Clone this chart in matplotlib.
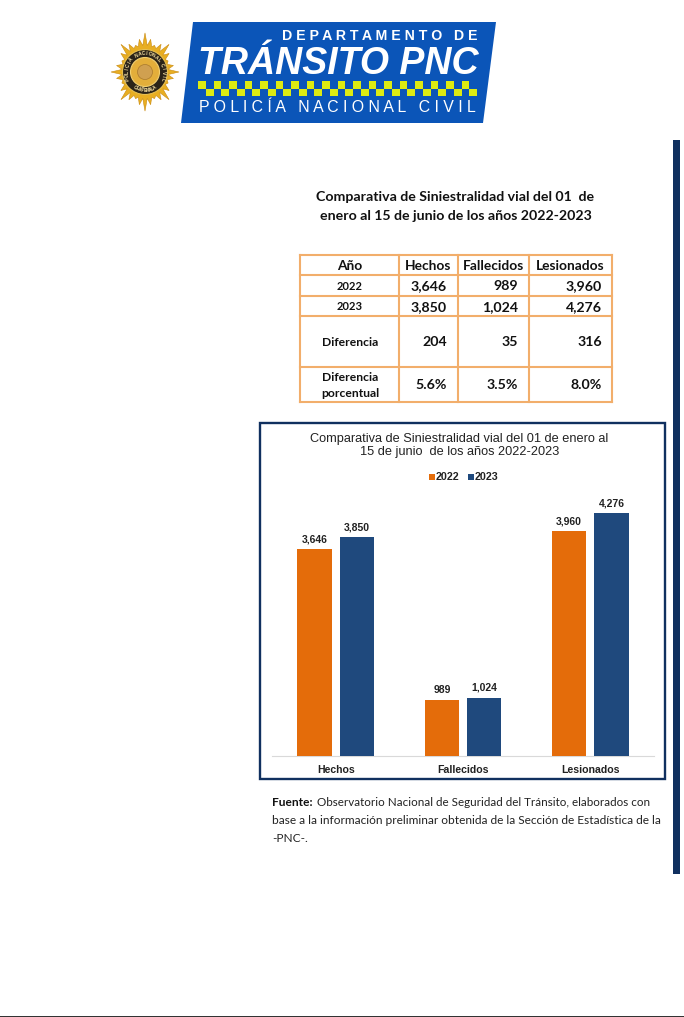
import numpy as np
import matplotlib
matplotlib.use("Agg")
import matplotlib.pyplot as plt
from matplotlib.patches import Polygon, Rectangle, Circle

# ---- data ----
categories = ["Hechos", "Fallecidos", "Lesionados"]
series_2022 = [3646, 989, 3960]
series_2023 = [3850, 1024, 4276]
labels_2022 = ["3,646", "989", "3,960"]
labels_2023 = ["3,850", "1,024", "4,276"]
table_head = ["Año", "Hechos", "Fallecidos", "Lesionados"]
table_rows = [
    ["2022", "3,646", "989", "3,960"],
    ["2023", "3,850", "1,024", "4,276"],
    ["Diferencia", "204", "35", "316"],
    ["Diferencia\nporcentual", "5.6%", "3.5%", "8.0%"],
]
doc_title = "Comparativa de Siniestralidad vial del 01  de\nenero al 15 de junio de los años 2022-2023"
chart_title = "Comparativa de Siniestralidad vial del 01 de enero al\n15 de junio  de los años 2022-2023"

ORANGE, BLUE = "#E46C0A", "#1F497D"
NAVY = "#10305F"
TABLE_LINE = "#F2AE6B"
BODY = "Lato"
ARIAL = "Liberation Sans"
W, H = 684, 1017

fig = plt.figure(figsize=(W / 100, H / 100), dpi=100, facecolor="white")
pg = fig.add_axes([0, 0, 1, 1])
pg.set_xlim(0, W)
pg.set_ylim(H, 0)
pg.axis("off")

# ---- logo ----
pg.add_patch(Polygon([(193, 22), (496, 22), (483, 123), (181, 123)], fc="#0B55B8", ec="none"))
pg.text(477, 36.5, "D E P A R T A M E N T O   D E", color="white", fontsize=10.2, fontweight="bold",
        family=ARIAL, ha="right", va="center")
pg.text(338, 64, "TRÁNSITO PNC", color="white", fontsize=27, fontweight="bold", style="italic",
        family=ARIAL, ha="center", va="center")
pg.text(337, 107.5, "P O L I C Í A   N A C I O N A L   C I V I L", color="white", fontsize=11.4,
        family=ARIAL, ha="center", va="center")
for i in range(36):
    x0 = 198 + i * 7.75
    y0 = 81 if i % 2 == 0 else 88.5
    pg.add_patch(Rectangle((x0, y0), 7.75, 7.5, fc="#DDEB12", ec="none"))

# badge
cx, cy = 145, 72
n_peaks = 32
ang = np.linspace(0, 2 * np.pi, 2 * n_peaks, endpoint=False)
peak_r = {0: 34, 1: 29, 2: 25, 3: 29}
rad = np.array([peak_r[(k // 2) % 4] if k % 2 == 0 else 23 for k in range(2 * n_peaks)], dtype=float)
pg.add_patch(Polygon(np.c_[cx + rad * np.sin(ang), cy + 1.15 * rad * np.cos(ang)], fc="#E8AE22",
                     ec="#C98A12", lw=0.4))
pg.add_patch(Circle((cx, cy), 22.5, fc="#2A2318", ec="#E8C050", lw=0.8))
pg.add_patch(Circle((cx, cy), 14.5, fc="#E3AE3A", ec="#F2D070", lw=0.8))
pg.add_patch(Circle((cx, cy), 7.5, fc="#D0A050", ec="#B08030", lw=0.6))
for txt, start, stop, rot_off in [("POLICIA NACIONAL CIVIL", -112, 112, 0), ("GUATEMALA", 212, 148, 180)]:
    for ch, a in zip(txt, np.linspace(start, stop, len(txt))):
        r = np.deg2rad(a)
        pg.text(cx + 18.3 * np.sin(r), cy - 18.3 * np.cos(r), ch, color="#F5DFA0", fontsize=3.6,
                fontweight="bold", family=ARIAL, ha="center", va="center", rotation=-a + rot_off)

# ---- side bar and foot line ----
pg.add_patch(Rectangle((673, 140), 7, 734, fc=NAVY, ec="none"))
pg.add_patch(Rectangle((0, 1016), W, 1, fc="#333333", ec="none"))

# ---- document title ----
pg.text(455.5, 206.5, doc_title, family=BODY, fontsize=10.2, fontweight="bold", color="#111111",
        ha="center", va="center", linespacing=1.7)

# ---- table ----
xs = [300, 399, 458, 529, 612]
ys = [255, 275, 296, 316, 367, 402]
for x in xs:
    pg.plot([x, x], [ys[0], ys[-1]], color=TABLE_LINE, lw=1.5, solid_capstyle="projecting")
for y in ys:
    pg.plot([xs[0], xs[-1]], [y, y], color=TABLE_LINE, lw=1.5, solid_capstyle="projecting")
for j, h in enumerate(table_head):
    pg.text((xs[j] + xs[j + 1]) / 2, 265.5, h, family=BODY, fontsize=9.9, fontweight="bold",
            color="#111111", ha="center", va="center")
right_edges = [447, 518, 602]
for i, row in enumerate(table_rows):
    yc = (ys[i + 1] + ys[i + 2]) / 2
    size0 = 8 if i < 2 else 8.7
    pg.text(350, yc + 0.8, row[0], family=BODY, fontsize=size0, fontweight="bold", color="#111111",
            ha="center", va="center", linespacing=1.5)
    for j in range(3):
        pg.text(right_edges[j], yc + 0.8, row[j + 1], family=BODY, fontsize=10.2, fontweight="bold",
                color="#111111", ha="right", va="center")

# ---- chart frame ----
pg.add_patch(Rectangle((259.5, 422.5), 405, 356, fc="white", ec=NAVY, lw=1.7))
pg.text(459.5, 445.5, chart_title, family=ARIAL, fontsize=9.2, color="#222222", ha="center",
        va="center", linespacing=1.2)

# ---- bars ----
left, right, top, bottom = 272, 654, 472, 756
ax = fig.add_axes([left / W, 1 - bottom / H, (right - left) / W, (bottom - top) / H])
ax.patch.set_alpha(0)
pos = np.arange(len(categories))
off, bw = 0.166, 0.27
ax.bar(pos - off, series_2022, bw, color=ORANGE, zorder=3)
ax.bar(pos + off, series_2023, bw, color=BLUE, zorder=3)
ax.set_xlim(-0.5, 2.5)
ax.set_ylim(0, 5000)
ax.set_yticks([])
ax.set_xticks(pos, categories, family=ARIAL, fontsize=7.6, fontweight="bold", color="#222222")
ax.tick_params(axis="x", length=0, pad=6.2)
for s in ("top", "left", "right"):
    ax.spines[s].set_visible(False)
ax.spines["bottom"].set_color("#D9D9D9")
ax.spines["bottom"].set_linewidth(0.8)
for x, v, t in zip(pos - off, series_2022, labels_2022):
    ax.annotate(t, (x, v), xytext=(0, 3.5), textcoords="offset points", ha="center", va="bottom",
                family=ARIAL, fontsize=7.5, fontweight="bold", color="#222222")
for x, v, t in zip(pos + off, series_2023, labels_2023):
    ax.annotate(t, (x, v), xytext=(0, 3.5), textcoords="offset points", ha="center", va="bottom",
                family=ARIAL, fontsize=7.5, fontweight="bold", color="#222222")

# legend
pg.add_patch(Rectangle((429, 474), 5.5, 5.5, fc=ORANGE, ec="none"))
pg.text(436, 477, "2022", family=ARIAL, fontsize=7.7, fontweight="bold", color="#222222", va="center")
pg.add_patch(Rectangle((468, 474), 5.5, 5.5, fc=BLUE, ec="none"))
pg.text(475, 477, "2023", family=ARIAL, fontsize=7.7, fontweight="bold", color="#222222", va="center")

# ---- source note ----
pg.text(272, 803, "Fuente:", family=BODY, fontsize=8.6, fontweight="bold", color="#111111", va="center")
pg.text(317, 803, "Observatorio Nacional de Seguridad del Tránsito, elaborados con", family=BODY,
        fontsize=8.35, color="#222222", va="center")
pg.text(272, 820, "base a la información preliminar obtenida de la Sección de Estadística de la",
        family=BODY, fontsize=8.6, color="#222222", va="center")
pg.text(272, 838, "-PNC-.", family=BODY, fontsize=8.6, color="#222222", va="center")

fig.savefig("out.png", dpi=100, facecolor="white")
